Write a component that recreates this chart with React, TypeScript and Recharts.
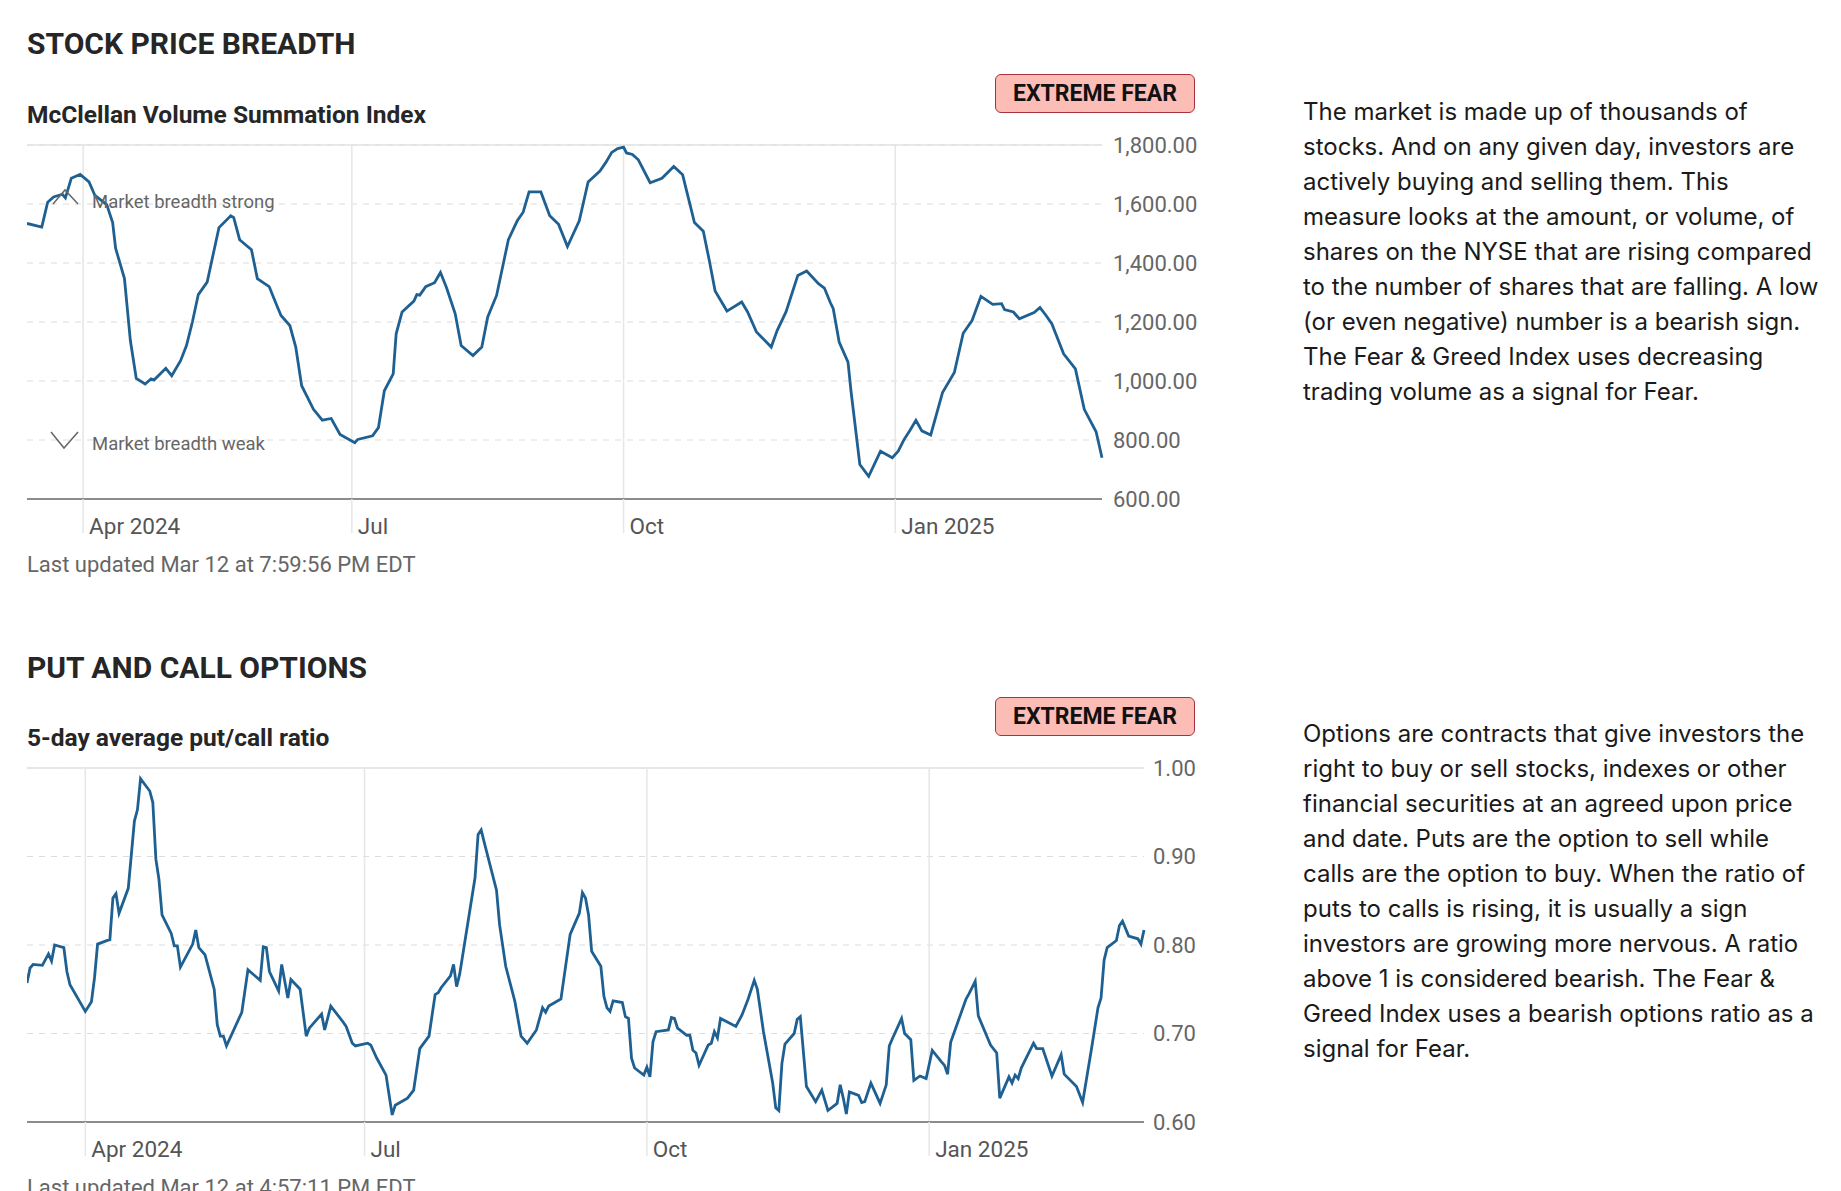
import React from 'react';
import { LineChart, Line, XAxis, YAxis, CartesianGrid, ReferenceLine, ReferenceDot } from 'recharts';

const FONT = 'Roboto, "Liberation Sans", Arial, sans-serif';
const TEXT_FONT = 'Inter, Roboto, "Liberation Sans", sans-serif';
const LINE_COLOR = '#1f6092';

// days counted from 2024-04-01
const monthTickDays = [0, 91, 183, 275];
const monthTickLabels = ['Apr 2024', 'Jul', 'Oct', 'Jan 2025'];

const breadthTicks = [600, 800, 1000, 1200, 1400, 1600, 1800];
const ratioTicks = [0.6, 0.7, 0.8, 0.9, 1.0];

// McClellan Volume Summation Index
const breadthDays = [
  -19, -14, -12, -10, -7, -6, -4, -1, 2, 4,
  8, 10, 11, 14, 16, 18, 21, 23, 24, 28,
  30, 33, 35, 37, 39, 42, 46, 50, 51, 53,
  57, 59, 63, 65, 67, 70, 72, 74, 78, 81,
  84, 87, 92, 93, 98, 100, 102, 105, 106, 108,
  112, 113, 114, 116, 119, 121, 123, 126, 128, 132,
  135, 137, 140, 144, 147, 149, 151, 155, 158, 161,
  164, 168, 171, 175, 177, 179, 181, 183, 184, 186,
  188, 192, 196, 200, 203, 207, 210, 212, 214, 218,
  223, 225, 228, 230, 233, 235, 238, 242, 245, 249,
  251, 253, 254, 256, 259, 260, 263, 266, 270, 274,
  276, 278, 280, 282, 284, 287, 291, 295, 298, 301,
  304, 308, 311, 312, 315, 317, 322, 324, 326, 328,
  332, 336, 339, 343, 345,
];
const breadthValues = [
  1534, 1522, 1606, 1624, 1633, 1621, 1687, 1700, 1675, 1629,
  1598, 1537, 1450, 1347, 1137, 1009, 990, 1007, 1003, 1043,
  1018, 1069, 1120, 1200, 1293, 1335, 1520, 1560, 1554, 1479,
  1445, 1347, 1320, 1270, 1222, 1188, 1115, 984, 904, 867,
  873, 819, 791, 802, 814, 842, 967, 1024, 1160, 1234,
  1271, 1293, 1291, 1320, 1333, 1368, 1318, 1228, 1120, 1086,
  1115, 1217, 1290, 1479, 1543, 1572, 1641, 1641, 1560, 1531,
  1456, 1543, 1675, 1712, 1741, 1775, 1788, 1793, 1773, 1768,
  1750, 1672, 1687, 1727, 1699, 1537, 1508, 1410, 1305, 1237,
  1268, 1234, 1166, 1146, 1115, 1171, 1234, 1358, 1373, 1330,
  1315, 1266, 1245, 1132, 1064, 967, 717, 677, 762, 740,
  762, 802, 833, 867, 831, 817, 961, 1029, 1162, 1205,
  1287, 1260, 1262, 1242, 1234, 1211, 1232, 1249, 1223, 1194,
  1092, 1041, 904, 828, 740,
];

// 5-day average put/call ratio
const ratioDays = [
  -19, -18, -17, -14, -12, -11, -10, -7, -6, -5,
  0, 2, 3, 4, 7, 8, 9, 10, 11, 14,
  16, 17, 18, 21, 22, 23, 24, 25, 28, 29,
  30, 31, 35, 36, 37, 39, 42, 43, 44, 45,
  46, 51, 53, 57, 58, 59, 60, 63, 64, 66,
  67, 70, 72, 73, 77, 78, 80, 84, 85, 87,
  88, 92, 93, 95, 98, 100, 101, 105, 107, 109,
  112, 114, 115, 116, 119, 120, 121, 122, 127, 128,
  129, 130, 134, 135, 137, 140, 142, 144, 147, 149,
  150, 151, 154, 155, 158, 161, 162, 163, 164, 165,
  168, 169, 170, 171, 172, 175, 176, 177, 178, 179,
  182, 183, 184, 185, 186, 190, 191, 192, 193, 196,
  197, 198, 199, 200, 203, 204, 205, 206, 207, 212,
  214, 216, 218, 219, 221, 224, 225, 226, 227, 228,
  231, 232, 233, 235, 238, 240, 242, 245, 246, 247,
  248, 249, 252, 253, 254, 256, 259, 261, 262, 263,
  266, 267, 269, 270, 272, 274, 276, 279, 280, 281,
  282, 287, 288, 290, 291, 295, 297, 298, 301, 302,
  303, 304, 305, 309, 310, 312, 315, 318, 319, 323,
  325, 328, 330, 331, 332, 333, 336, 337, 338, 340,
  343, 344, 345,
];
const ratioValues = [
  0.757, 0.774, 0.778, 0.777, 0.790, 0.782, 0.800, 0.797, 0.770, 0.755,
  0.725, 0.736, 0.763, 0.801, 0.805, 0.806, 0.853, 0.858, 0.836, 0.864,
  0.940, 0.953, 0.988, 0.974, 0.961, 0.897, 0.874, 0.834, 0.813, 0.799,
  0.799, 0.775, 0.801, 0.817, 0.797, 0.789, 0.750, 0.710, 0.697, 0.697,
  0.686, 0.724, 0.772, 0.760, 0.798, 0.797, 0.770, 0.748, 0.778, 0.740,
  0.761, 0.750, 0.697, 0.706, 0.722, 0.704, 0.731, 0.713, 0.708, 0.689,
  0.686, 0.689, 0.687, 0.672, 0.653, 0.608, 0.619, 0.627, 0.636, 0.683,
  0.697, 0.744, 0.746, 0.752, 0.765, 0.778, 0.753, 0.767, 0.876, 0.925,
  0.930, 0.916, 0.862, 0.823, 0.776, 0.736, 0.697, 0.689, 0.704, 0.729,
  0.724, 0.731, 0.737, 0.739, 0.812, 0.836, 0.859, 0.853, 0.834, 0.793,
  0.776, 0.742, 0.729, 0.725, 0.737, 0.735, 0.719, 0.717, 0.672, 0.661,
  0.653, 0.662, 0.651, 0.691, 0.702, 0.704, 0.718, 0.717, 0.706, 0.698,
  0.698, 0.681, 0.678, 0.664, 0.687, 0.689, 0.702, 0.695, 0.717, 0.708,
  0.721, 0.739, 0.760, 0.750, 0.702, 0.644, 0.616, 0.613, 0.666, 0.688,
  0.700, 0.716, 0.719, 0.640, 0.623, 0.636, 0.613, 0.621, 0.642, 0.627,
  0.609, 0.634, 0.630, 0.622, 0.623, 0.644, 0.621, 0.642, 0.686, 0.694,
  0.717, 0.700, 0.693, 0.647, 0.652, 0.649, 0.681, 0.668, 0.664, 0.654,
  0.690, 0.739, 0.745, 0.759, 0.720, 0.687, 0.678, 0.627, 0.651, 0.644,
  0.653, 0.649, 0.661, 0.689, 0.683, 0.683, 0.652, 0.676, 0.654, 0.640,
  0.622, 0.685, 0.729, 0.740, 0.783, 0.797, 0.805, 0.822, 0.827, 0.810,
  0.807, 0.801, 0.817,
];

const breadthText = [
  'The market is made up of thousands of',
  'stocks. And on any given day, investors are',
  'actively buying and selling them. This',
  'measure looks at the amount, or volume, of',
  'shares on the NYSE that are rising compared',
  'to the number of shares that are falling. A low',
  '(or even negative) number is a bearish sign.',
  'The Fear & Greed Index uses decreasing',
  'trading volume as a signal for Fear.',
];
const optionsText = [
  'Options are contracts that give investors the',
  'right to buy or sell stocks, indexes or other',
  'financial securities at an agreed upon price',
  'and date. Puts are the option to sell while',
  'calls are the option to buy. When the ratio of',
  'puts to calls is rising, it is usually a sign',
  'investors are growing more nervous. A ratio',
  'above 1 is considered bearish. The Fear &',
  'Greed Index uses a bearish options ratio as a',
  'signal for Fear.',
];

const breadthData = breadthDays.map((d, i) => ({ day: d, value: breadthValues[i] }));
const ratioData = ratioDays.map((d, i) => ({ day: d, value: ratioValues[i] }));

const MonthTick = (props: any) => {
  const { x, y, payload } = props;
  const label = monthTickLabels[monthTickDays.indexOf(payload.value)];
  return (
    <g>
      <line x1={x} x2={x} y1={y} y2={y + 34} stroke="#e6e6e6" strokeWidth={1.5} />
      <text x={x + 6} y={y + 35} fill="#555" fontSize={22.5} fontFamily={FONT}>
        {label}
      </text>
    </g>
  );
};

const BreadthNote = (props: any) => {
  const { cx, cy, up, text } = props;
  const pts = up
    ? `${cx + 26},${cy} ${cx + 38},${cy - 14} ${cx + 51},${cy}`
    : `${cx + 24},${cy - 8} ${cx + 37},${cy + 8} ${cx + 51},${cy - 8}`;
  return (
    <g>
      <polyline points={pts} fill="none" stroke="#666" strokeWidth={1.5} />
      <text x={cx + 65} y={cy + (up ? 4 : 10)} fill="#666" fontSize={18.5} fontFamily={FONT}>
        {text}
      </text>
    </g>
  );
};

type PanelProps = {
  data: { day: number; value: number }[];
  ticks: number[];
  yWidth: number;
  tickMargin: number;
  fmt: (v: number) => string;
  notes?: boolean;
};

const Panel = ({ data, ticks, yWidth, tickMargin, fmt, notes }: PanelProps) => {
  const top = ticks[ticks.length - 1];
  return (
    <LineChart width={1190} height={410} data={data} margin={{ top: 16, right: 0, bottom: 0, left: 0 }}>
      <CartesianGrid vertical={false} strokeDasharray="6 6" stroke="#dcdcdc" />
      <ReferenceLine y={top} stroke="#e2e2e2" strokeWidth={1.5} />
      {monthTickDays.map((d) => (
        <ReferenceLine key={d} x={d} stroke="#e6e6e6" strokeWidth={1.5} />
      ))}
      <XAxis
        dataKey="day"
        type="number"
        domain={['dataMin', 'dataMax']}
        ticks={monthTickDays}
        interval={0}
        tick={<MonthTick />}
        tickLine={false}
        tickSize={0}
        tickMargin={0}
        height={40}
        axisLine={{ stroke: '#8c8c8c', strokeWidth: 2 }}
      />
      <YAxis
        orientation="right"
        domain={[ticks[0], top]}
        ticks={ticks}
        interval={0}
        width={yWidth}
        axisLine={false}
        tickLine={false}
        tickMargin={tickMargin}
        tickFormatter={fmt}
        tick={{ fill: '#666', fontSize: 22, fontFamily: FONT }}
      />
      {notes && (
        <ReferenceDot x={data[0].day} y={1600} r={1} shape={(p: any) => <BreadthNote {...p} up text="Market breadth strong" />} />
      )}
      {notes && (
        <ReferenceDot x={data[0].day} y={800} r={1} shape={(p: any) => <BreadthNote {...p} text="Market breadth weak" />} />
      )}
      <Line
        type="linear"
        dataKey="value"
        stroke={LINE_COLOR}
        strokeWidth={2.8}
        dot={false}
        isAnimationActive={false}
      />
    </LineChart>
  );
};

const abs = (left: number, top: number): React.CSSProperties => ({ position: 'absolute', left, top, whiteSpace: 'nowrap' });

const Badge = ({ top }: { top: number }) => (
  <div
    style={{
      ...abs(995, top),
      width: 200,
      height: 39,
      boxSizing: 'border-box',
      background: '#fcbdb6',
      border: '1.5px solid #a8323e',
      borderRadius: 6,
      display: 'flex',
      alignItems: 'center',
      justifyContent: 'center',
      font: `bold 23px ${FONT}`,
      color: '#111',
    }}
  >
    EXTREME FEAR
  </div>
);

const Paragraph = ({ top, lines }: { top: number; lines: string[] }) => (
  <div style={{ ...abs(1303, top), font: `24px/35px ${TEXT_FONT}`, color: '#1a1a1a' }}>
    {lines.map((l) => (
      <div key={l}>{l}</div>
    ))}
  </div>
);

const titleStyle = { font: `bold 30px ${FONT}`, color: '#262626' };
const subStyle = { font: `bold 24.5px ${FONT}`, color: '#262626' };
const noteStyle = { font: `22px ${FONT}`, color: '#666' };

export default function App() {
  return (
    <div style={{ position: 'absolute', left: 0, top: 0, width: 1841, height: 1191, background: '#fff', overflow: 'hidden', fontFamily: FONT }}>
      <div style={{ ...abs(27, 26), ...titleStyle }}>STOCK PRICE BREADTH</div>
      <div style={{ ...abs(27, 100), ...subStyle }}>McClellan Volume Summation Index</div>
      <Badge top={74} />
      <div style={{ ...abs(27, 129) }}>
        <Panel data={breadthData} ticks={breadthTicks} yWidth={115} tickMargin={5} notes fmt={(v) => v.toLocaleString('en-US', { minimumFractionDigits: 2, maximumFractionDigits: 2 })} />
      </div>
      <div style={{ ...abs(27, 552), ...noteStyle }}>Last updated Mar 12 at 7:59:56 PM EDT</div>
      <Paragraph top={94} lines={breadthText} />

      <div style={{ ...abs(27, 650), ...titleStyle }}>PUT AND CALL OPTIONS</div>
      <div style={{ ...abs(27, 723), ...subStyle }}>5-day average put/call ratio</div>
      <Badge top={697} />
      <div style={{ ...abs(27, 752) }}>
        <Panel data={ratioData} ticks={ratioTicks} yWidth={73} tickMargin={3} fmt={(v) => v.toFixed(2)} />
      </div>
      <div style={{ ...abs(27, 1175), ...noteStyle }}>Last updated Mar 12 at 4:57:11 PM EDT</div>
      <Paragraph top={716} lines={optionsText} />
    </div>
  );
}
